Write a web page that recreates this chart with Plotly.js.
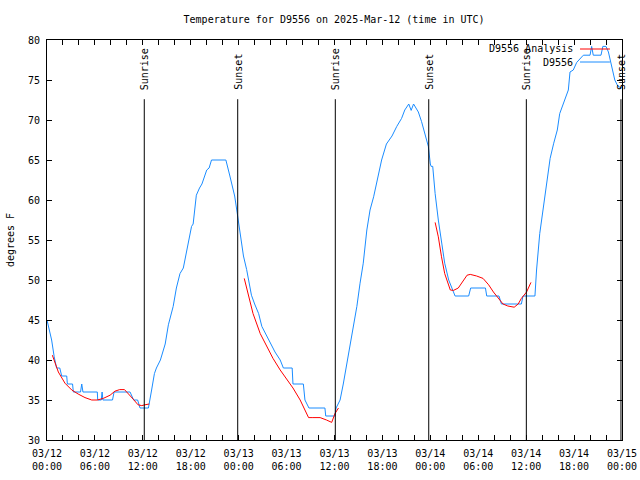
<!DOCTYPE html>
<html>
<head>
<meta charset="utf-8">
<script src="https://cdn.plot.ly/plotly-3.0.1.min.js"></script>
<style>html,body{margin:0;padding:0;background:#fff;}#chart{width:640px;height:480px;}</style>
</head>
<body>
<div id="chart"></div>
<script>
// Hours after 2025-03-12 00:00 UTC
var obsHours = [0.0,0.3,0.58,0.9,1.13,1.2,1.6,1.7,1.84,2.47,2.55,3.2,3.3,4.2,4.35,4.5,6.3,6.35,6.8,6.9,7.0,8.2,8.4,10.4,10.6,10.85,11.35,11.65,12.7,12.9,13.1,13.45,13.7,14.2,14.8,15.2,15.8,16.2,16.65,17.07,17.5,18.1,18.3,18.7,19.1,19.4,20.0,20.3,20.6,22.4,22.9,23.5,23.8,24.0,24.2,24.6,25.0,25.4,25.6,26.0,26.5,26.9,27.5,28.1,28.55,29.2,29.6,30.7,30.8,32.1,32.3,32.8,34.8,34.9,36.05,36.2,36.7,37.1,37.5,37.9,38.35,38.8,39.2,39.6,40.05,40.45,40.9,41.3,41.9,42.5,43.2,43.8,44.4,44.8,45.3,45.6,45.9,46.2,46.5,46.9,47.3,47.75,48.0,48.1,48.3,48.6,49.0,49.4,49.8,50.3,50.7,51.1,52.8,53.05,54.9,55.06,56.6,56.9,59.4,59.6,61.1,61.3,61.7,62.15,62.6,63.0,63.45,63.9,64.2,64.86,65.28,65.49,65.9,66.33,67.16,68.0,68.2,68.4,69.37,69.6,70.0,70.3,70.7,71.1,71.5,71.9,72.0];
var obsTemp = [45,43.5,42.5,40.4,39.4,39,39,38.5,38,38,37,37,36,36,37,36,36,35,35,36,35,35,36,36,35.5,35,35,34,34,35,36.25,38.3,39,40,42,44.4,46.7,49,50.8,51.5,53.75,56.7,57,60.6,61.5,62,63.75,64,65,65,63,60.5,58.5,57,55.4,53,51.3,49,48.1,47,45.8,44.2,43,42,41,40,39,39,37,37,35,34,34,33,33,34,35,37,39.2,41.25,43.75,46.7,49.6,52.1,56.25,58.75,60.4,62.1,65,67,68,69.2,70.2,71.25,72,71.2,72,71.5,71,69.8,68.3,66.7,64.5,64.2,64.2,60.8,57.5,54.6,52.1,50,49,48,48,49,49,48,48,47,47,48,48,51.25,55.8,59.2,62.5,65.2,67.1,68.75,70.8,72.5,73.75,76,76.25,77.2,78.1,78.1,79.2,78.1,78.1,79.2,79.2,78.5,76.9,75,74.2,74,74];

var anaHours = [0.67,1.42,2.25,3.1,3.9,4.76,5.6,6.3,7.05,7.9,8.5,9.1,9.7,10.2,10.8,11.4,11.86,12.27,12.8,
  null,
  24.7,25.2,25.8,26.7,27.5,28.3,29.2,30.0,30.8,31.7,32.3,32.75,33.2,34.2,35.0,35.65,36.06,36.5,
  null,
  48.6,49.0,49.4,49.8,50.5,50.9,51.5,51.9,52.6,53.0,53.8,54.6,55.3,55.9,56.5,57.1,57.7,58.5,59.0,59.4,60.05,60.6];
var anaTemp = [40.6,38.5,37.1,36.25,35.75,35.3,35,35,35.2,35.6,36.1,36.3,36.3,35.8,35.1,34.4,34.3,34.4,34.5,
  null,
  50.2,48.3,45.8,43.3,41.7,40.2,38.75,37.7,36.5,35,33.75,32.8,32.8,32.8,32.5,32.2,33.3,34,
  null,
  57.2,55.4,52.9,50.8,48.75,48.7,49,49.6,50.6,50.7,50.5,50.2,49.4,48.5,47.7,47,46.75,46.6,47,47.7,48.5,49.7];

var sunHours = [12.18,23.88,36.1,47.8,60.02,71.87];
var sunLabels = ['Sunrise','Sunset','Sunrise','Sunset','Sunrise','Sunset'];

var tickHours = [];
for (var t = 0; t <= 72; t += 2) tickHours.push(t);
var dayLabels = ['03/12','03/12','03/12','03/12','03/13','03/13','03/13','03/13','03/14','03/14','03/14','03/14','03/15'];
var timeLabels = ['00:00','06:00','12:00','18:00','00:00','06:00','12:00','18:00','00:00','06:00','12:00','18:00','00:00'];

var title = 'Temperature for D9556 on 2025-Mar-12 (time in UTC)';
var yTitle = 'degrees F';
var seriesNames = ['D9556 Analysis', 'D9556'];

var BASE = Date.UTC(2025, 2, 12);
function h2d(h) {
  if (h === null) return null;
  return new Date(BASE + h * 3600000).toISOString().replace('T', ' ').slice(0, 19);
}

var FONT = {family: 'DejaVu Sans Mono, monospace', size: 10, color: '#000'};
var RED = '#ff0000', BLUE = '#1a8cff';

var tickText = tickHours.map(function (h) {
  if (h % 6 !== 0) return '';
  var i = h / 6;
  return dayLabels[i] + '<br>' + timeLabels[i];
});

var traces = [
  {x: obsHours.map(h2d), y: obsTemp, type: 'scatter', mode: 'lines', name: seriesNames[1],
   line: {color: BLUE, width: 1}, showlegend: false, hoverinfo: 'skip'},
  {x: anaHours.map(h2d), y: anaTemp, type: 'scatter', mode: 'lines', name: seriesNames[0],
   line: {color: RED, width: 1}, connectgaps: false, showlegend: false, hoverinfo: 'skip'}
];

var shapes = [], annotations = [];
sunHours.forEach(function (h, i) {
  shapes.push({type: 'line', xref: 'x', yref: 'y', x0: h2d(h), x1: h2d(h), y0: 30, y1: 72.6,
    line: {color: '#000', width: 1}});
  annotations.push({xref: 'x', yref: 'y', x: h2d(h), y: 73.5, text: sunLabels[i], textangle: -90,
    showarrow: false, xanchor: 'center', yanchor: 'bottom', font: FONT});
});

// legend drawn as in the reference (text left, sample right)
var legY = [0.9775, 0.945];
var legColors = [RED, BLUE];
seriesNames.forEach(function (n, i) {
  annotations.push({xref: 'paper', yref: 'paper', x: 0.9175, y: legY[i], text: n, showarrow: false,
    xanchor: 'right', yanchor: 'middle', font: FONT});
  shapes.push({type: 'line', xref: 'paper', yref: 'paper', x0: 0.927, x1: 0.979, y0: legY[i], y1: legY[i],
    line: {color: legColors[i], width: 1}});
});

var layout = {
  width: 640, height: 480,
  margin: {l: 47, r: 18, t: 40, b: 40, autoexpand: false},
  paper_bgcolor: '#fff', plot_bgcolor: '#fff',
  font: FONT,
  title: {text: title, font: FONT, x: 0.522, xanchor: 'center', y: 0.96, yanchor: 'middle'},
  showlegend: false,
  xaxis: {
    type: 'date', range: [h2d(0), h2d(72)],
    tickmode: 'array', tickvals: tickHours.map(h2d), ticktext: tickText,
    ticks: 'inside', ticklen: 5, tickcolor: '#000', tickwidth: 1,
    showline: true, linecolor: '#000', linewidth: 1, mirror: 'ticks',
    showgrid: false, zeroline: false, tickfont: FONT, ticklabelstandoff: 4
  },
  yaxis: {
    range: [30, 80], dtick: 5, tick0: 30,
    ticks: 'inside', ticklen: 5, tickcolor: '#000', tickwidth: 1,
    showline: true, linecolor: '#000', linewidth: 1, mirror: 'ticks',
    showgrid: false, zeroline: false, tickfont: FONT, ticklabelstandoff: 4,
    title: {text: yTitle, font: FONT, standoff: 11}
  },
  shapes: shapes,
  annotations: annotations
};

Plotly.newPlot('chart', traces, layout, {staticPlot: true, displayModeBar: false});
</script>
</body>
</html>
